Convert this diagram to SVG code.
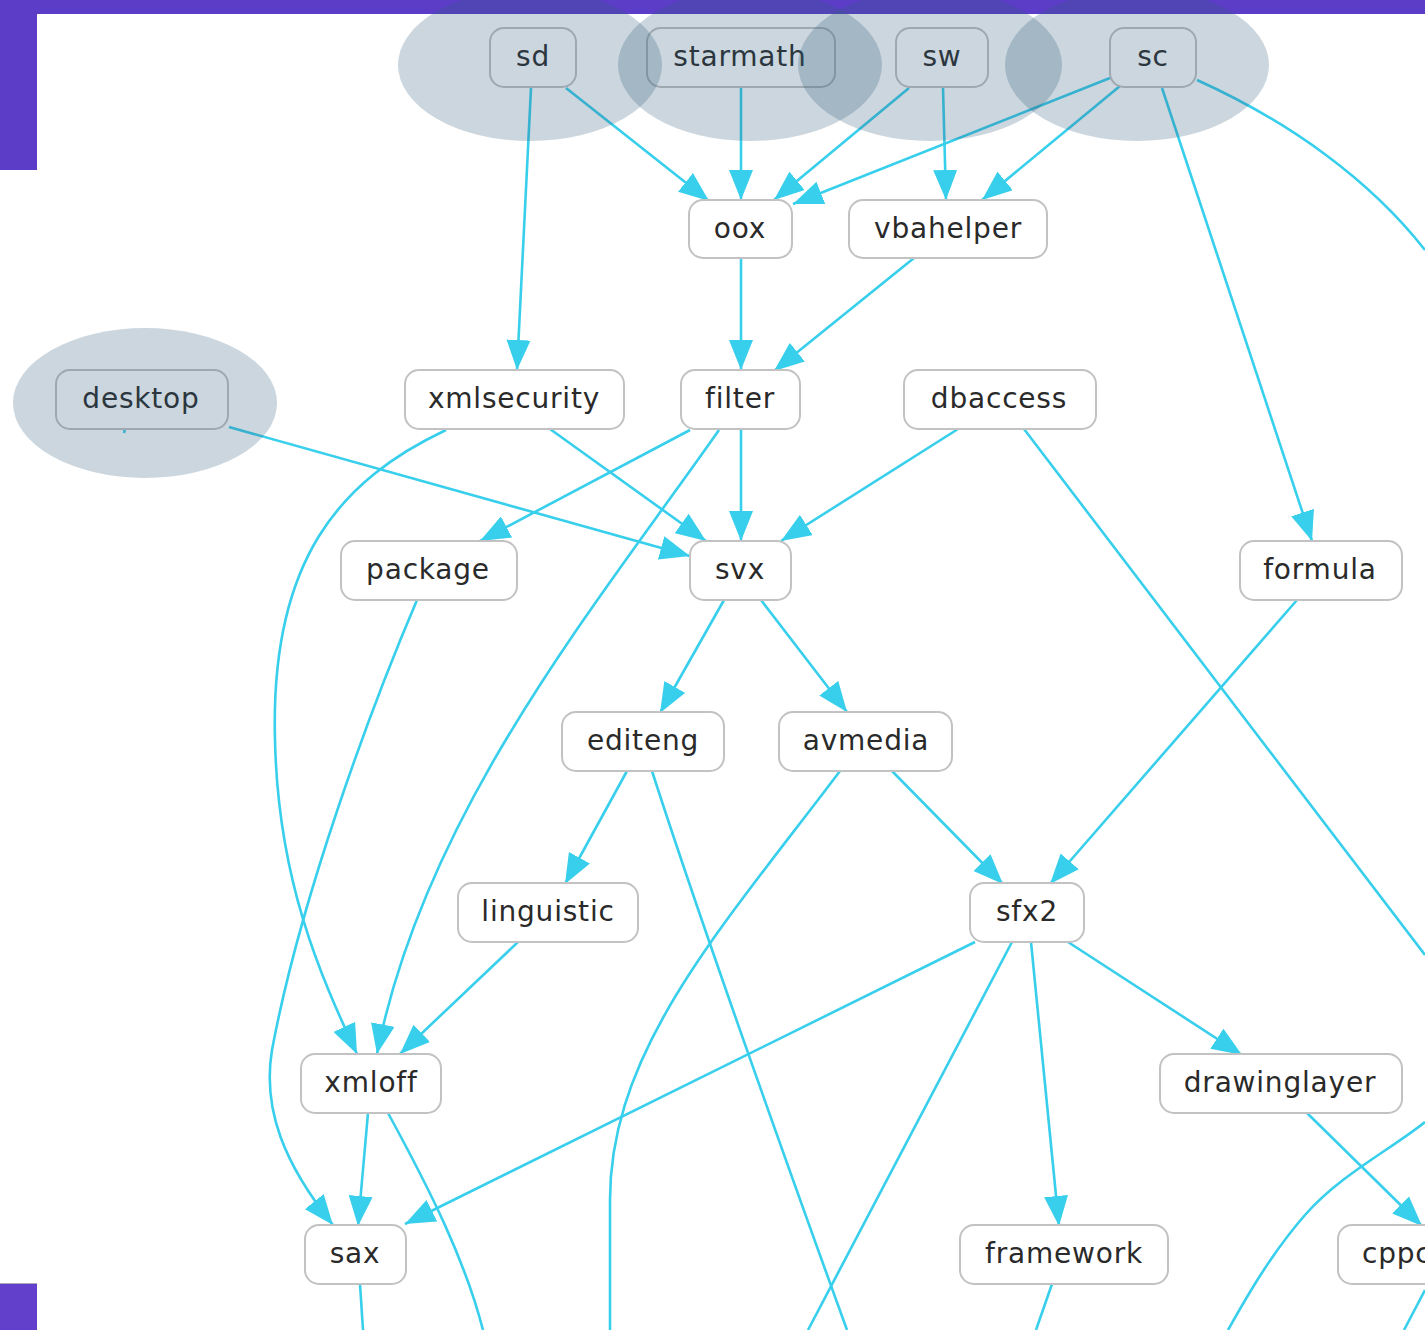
<svg xmlns="http://www.w3.org/2000/svg" width="1425" height="1330" viewBox="0 0 1425 1330">
<defs>
<style>
.bg{fill:#ffffff}
.bar{fill:#5c3dc8}
.node rect{fill:#ffffff;stroke:#c2c2c2;stroke-width:2}
.node text{font-family:"DejaVu Sans","Liberation Sans",sans-serif;font-size:28px;fill:#2a2a2a;text-anchor:middle;letter-spacing:0.8px}
.edges path{fill:none;stroke:#38cfec;stroke-width:2.6}
.hl ellipse{fill:#2f5a7a;fill-opacity:0.25}
</style>
<marker id="arr" markerUnits="userSpaceOnUse" viewBox="0 0 30 24" markerWidth="30" markerHeight="24" refX="30" refY="12" orient="auto">
<path d="M0,0 L30,12 L0,24 z" fill="#38cfec"/>
</marker>
</defs>
<rect class="bg" x="0" y="0" width="1425" height="1330"/>
<g id="frame">
<rect class="bar" x="0" y="0" width="1425" height="14"/>
<rect class="bar" x="0" y="0" width="37" height="170"/>
<rect x="0" y="1283" width="37" height="47" fill="#6340cc"/>
<line x1="0" y1="1283.5" x2="37" y2="1283.5" stroke="#a8a8b8" stroke-width="1"/>
</g>
<g id="connectors" class="edges">
<path d="M566,88 L709,201" marker-end="url(#arr)"/>
<path d="M531,88 L517,370" marker-end="url(#arr)"/>
<path d="M741,88 L741,200" marker-end="url(#arr)"/>
<path d="M909,88 L774,200" marker-end="url(#arr)"/>
<path d="M943,88 L946,200" marker-end="url(#arr)"/>
<path d="M1110,78 L793,204" marker-end="url(#arr)"/>
<path d="M1120,86 L982,200" marker-end="url(#arr)"/>
<path d="M1162,88 L1312,541" marker-end="url(#arr)"/>
<path d="M1197,80 C1290,122 1370,180 1425,250"/>
<path d="M741,258 L741,370" marker-end="url(#arr)"/>
<path d="M914,258 L774,371" marker-end="url(#arr)"/>
<path d="M229,427 L690,556" marker-end="url(#arr)"/>
<path d="M125,429 L124,433"/>
<path d="M550,429 L706,541" marker-end="url(#arr)"/>
<path d="M446,430 C340,480 270,560 275,740 C278,880 320,975 357,1054" marker-end="url(#arr)"/>
<path d="M690,430 L480,541" marker-end="url(#arr)"/>
<path d="M741,429 L741,541" marker-end="url(#arr)"/>
<path d="M719,430 C600,600 425,810 377,1054" marker-end="url(#arr)"/>
<path d="M958,429 L781,541" marker-end="url(#arr)"/>
<path d="M1024,429 L1425,955"/>
<path d="M417,600 C370,710 300,900 272,1050 C262,1110 285,1165 333,1225" marker-end="url(#arr)"/>
<path d="M724,600 L660,713" marker-end="url(#arr)"/>
<path d="M761,600 L847,712" marker-end="url(#arr)"/>
<path d="M1297,600 L1050,884" marker-end="url(#arr)"/>
<path d="M627,771 L565,884" marker-end="url(#arr)"/>
<path d="M652,771 C700,920 800,1200 847,1330"/>
<path d="M892,771 L1003,884" marker-end="url(#arr)"/>
<path d="M840,771 C720,930 610,1050 610,1200 L610,1330"/>
<path d="M518,942 L400,1054" marker-end="url(#arr)"/>
<path d="M975,942 L405,1224" marker-end="url(#arr)"/>
<path d="M1012,942 L808,1330"/>
<path d="M1031,942 L1059,1226" marker-end="url(#arr)"/>
<path d="M1068,942 L1242,1055" marker-end="url(#arr)"/>
<path d="M368,1113 L358,1226" marker-end="url(#arr)"/>
<path d="M388,1113 C430,1190 465,1260 483,1330"/>
<path d="M360,1284 L363,1330"/>
<path d="M1307,1113 L1422,1226" marker-end="url(#arr)"/>
<path d="M1052,1284 L1036,1330"/>
<path d="M1425,1122 C1390,1150 1340,1175 1305,1215 C1270,1255 1245,1300 1228,1330"/>
<path d="M1425,1290 L1404,1330"/>
</g>
<g id="node-sd" class="node"><rect x="490" y="28" width="86" height="59" rx="14"/><text x="533" y="66">sd</text></g>
<g id="node-starmath" class="node"><rect x="647" y="28" width="188" height="59" rx="14"/><text x="740" y="66">starmath</text></g>
<g id="node-sw" class="node"><rect x="896" y="28" width="92" height="59" rx="14"/><text x="942" y="66">sw</text></g>
<g id="node-sc" class="node"><rect x="1110" y="28" width="86" height="59" rx="14"/><text x="1153" y="66">sc</text></g>
<g id="node-oox" class="node"><rect x="689" y="200" width="103" height="58" rx="14"/><text x="740" y="238">oox</text></g>
<g id="node-vbahelper" class="node"><rect x="849" y="200" width="198" height="58" rx="14"/><text x="948" y="238">vbahelper</text></g>
<g id="node-desktop" class="node"><rect x="56" y="370" width="172" height="59" rx="14"/><text x="141" y="408">desktop</text></g>
<g id="node-xmlsecurity" class="node"><rect x="405" y="370" width="219" height="59" rx="14"/><text x="514" y="408">xmlsecurity</text></g>
<g id="node-filter" class="node"><rect x="681" y="370" width="119" height="59" rx="14"/><text x="740" y="408">filter</text></g>
<g id="node-dbaccess" class="node"><rect x="904" y="370" width="192" height="59" rx="14"/><text x="999" y="408">dbaccess</text></g>
<g id="node-package" class="node"><rect x="341" y="541" width="176" height="59" rx="14"/><text x="428" y="579">package</text></g>
<g id="node-svx" class="node"><rect x="690" y="541" width="101" height="59" rx="14"/><text x="740" y="579">svx</text></g>
<g id="node-formula" class="node"><rect x="1240" y="541" width="162" height="59" rx="14"/><text x="1320" y="579">formula</text></g>
<g id="node-editeng" class="node"><rect x="562" y="712" width="162" height="59" rx="14"/><text x="643" y="750">editeng</text></g>
<g id="node-avmedia" class="node"><rect x="779" y="712" width="173" height="59" rx="14"/><text x="866" y="750">avmedia</text></g>
<g id="node-linguistic" class="node"><rect x="458" y="883" width="180" height="59" rx="14"/><text x="548" y="921">linguistic</text></g>
<g id="node-sfx2" class="node"><rect x="970" y="883" width="114" height="59" rx="14"/><text x="1027" y="921">sfx2</text></g>
<g id="node-xmloff" class="node"><rect x="301" y="1054" width="140" height="59" rx="14"/><text x="371" y="1092">xmloff</text></g>
<g id="node-drawinglayer" class="node"><rect x="1160" y="1054" width="242" height="59" rx="14"/><text x="1280" y="1092">drawinglayer</text></g>
<g id="node-sax" class="node"><rect x="305" y="1225" width="101" height="59" rx="14"/><text x="355" y="1263">sax</text></g>
<g id="node-framework" class="node"><rect x="960" y="1225" width="208" height="59" rx="14"/><text x="1064" y="1263">framework</text></g>
<g id="node-cppc" class="node"><rect x="1338" y="1225" width="120" height="59" rx="14"/><text x="1362" y="1263" style="text-anchor:start">cppc</text></g>
<g id="highlights" class="hl">
<ellipse cx="530" cy="65" rx="132" ry="76"/>
<ellipse cx="750" cy="65" rx="132" ry="76"/>
<ellipse cx="930" cy="65" rx="132" ry="76"/>
<ellipse cx="1137" cy="65" rx="132" ry="76"/>
<ellipse cx="145" cy="403" rx="132" ry="75"/>
</g>
</svg>
